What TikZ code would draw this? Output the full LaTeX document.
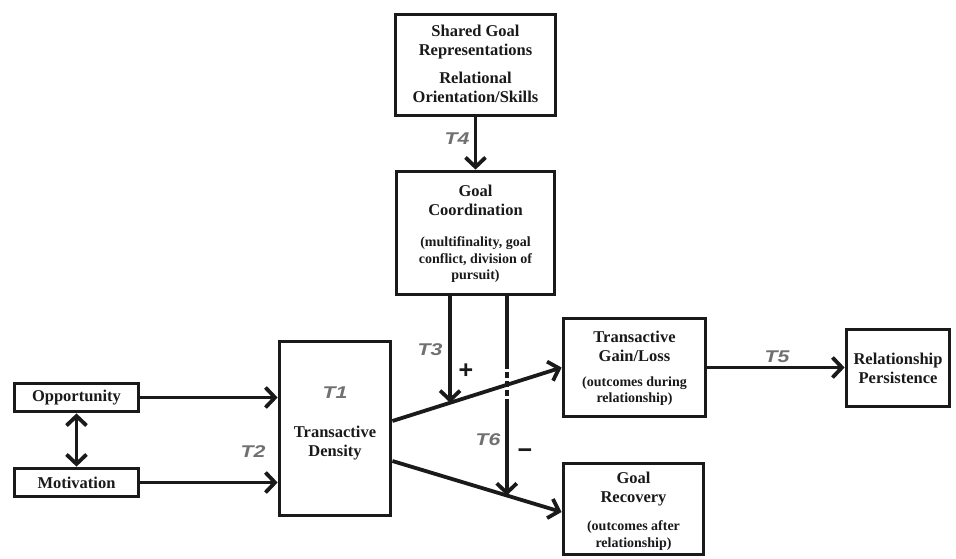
\documentclass[tikz,border=0pt]{standalone}
\usepackage{fontspec}
\setmainfont{Liberation Serif}
\newfontfamily\tfont[FakeStretch=1.25]{Liberation Sans}
\newfontfamily\sfont{Liberation Sans}
\usetikzlibrary{arrows.meta,calc}
\definecolor{tgray}{HTML}{707070}
\definecolor{ink}{HTML}{1A1A1A}
\tikzset{
  box/.style={draw=ink, line width=3.8pt, rectangle, inner sep=0pt},
  mainlab/.style={align=center, inner sep=0pt, text=ink, font=\fontsize{16.5}{19}\selectfont\bfseries},
  sublab/.style={align=center, inner sep=0pt, text=ink, font=\fontsize{14}{16.5}\selectfont\bfseries},
  conn/.style={draw=ink, line width=3.8pt},
  arr/.style={conn, -{Straight Barb[length=9.5pt,width=20pt]}},
  darr/.style={conn, {Straight Barb[length=9.5pt,width=20pt]}-{Straight Barb[length=9.5pt,width=20pt]}},
  tlab/.style={inner sep=0pt, text=tgray, font=\tfont\fontsize{17}{17}\selectfont\bfseries\itshape},
  sign/.style={inner sep=0pt, text=ink, font=\sfont\fontsize{25}{25}\selectfont\bfseries}
}
\begin{document}
\begin{tikzpicture}[x=1pt,y=-1pt]
\useasboundingbox[fill=white] (0,0) rectangle (956,558);
% boxes
\node[box, minimum width=160pt, minimum height=101pt] (SG) at (475.5,65) {};
\node[box, minimum width=158pt, minimum height=123pt] (GC) at (475.5,233) {};
\node[box, minimum width=111pt, minimum height=174pt] (TD) at (335,428.5) {};
\node[box, minimum width=124pt, minimum height=28pt] (Opp) at (76.5,397.5) {};
\node[box, minimum width=124pt, minimum height=28pt] (Mot) at (76.5,482.5) {};
\node[box, minimum width=142pt, minimum height=98pt] (TG) at (634.5,367.5) {};
\node[box, minimum width=103pt, minimum height=77pt] (RP) at (898,368) {};
\node[box, minimum width=140pt, minimum height=91pt] (GR) at (633.5,509) {};
% texts
\node[mainlab] (SGt) at (475.5,64) {Shared Goal\\Representations\\[9pt]Relational\\Orientation/Skills};
\node[mainlab] (GCt) at (475.5,200.5) {Goal\\Coordination};
\node[sublab] (GCs) at (475.5,260) {(multifinality, goal\\conflict, division of\\pursuit)};
\node[mainlab] (TDt) at (335,443.5) {Transactive\\Density};
\node[mainlab] (Oppt) at (76.5,397.5) {Opportunity};
\node[mainlab] (Mott) at (76.5,482.5) {Motivation};
\node[mainlab] (TGt) at (634.5,346) {Transactive\\Gain/Loss};
\node[sublab] (TGs) at (634.5,391) {(outcomes during\\relationship)};
\node[mainlab] (RPt) at (898,368) {Relationship\\Persistence};
\node[mainlab] (GRt) at (633.5,489.5) {Goal\\Recovery};
\node[sublab] (GRs) at (633.5,535.5) {(outcomes after\\relationship)};
% connectors
\draw[arr] (SG.south) -- (GC.north);
\draw[arr] (Opp.east) -- (Opp.east -| TD.west);
\draw[arr] (Mot.east) -- (Mot.east -| TD.west);
\draw[darr] (Opp.south) -- (Mot.north);
\coordinate (d1) at ([yshift=7.5pt]TD.east);
\coordinate (d2) at ([yshift=-32.5pt]TD.east);
\coordinate (e2) at ([yshift=-3pt]GR.west);
\draw[arr] (d1) -- (TG.west) coordinate[pos=0.341] (x3) coordinate[pos=0.676] (c6);
\draw[arr] (d2) -- (e2) coordinate[pos=0.676] (x6);
\draw[arr] (GC.south -| x3) -- (x3);
\draw[conn] (GC.south -| c6) -- ([yshift=22pt]c6);
\draw[conn, dash pattern=on 6pt off 3pt] ([yshift=22pt]c6) -- ([yshift=-16pt]c6);
\draw[arr] ([yshift=-16pt]c6) -- (x6);
\draw[arr] (TG.east) -- (TG.east -| RP.west);
% labels
\node[tlab] (T4) at (457,139) {T4};
\node[tlab] (T3) at (430,350) {T3};
\node[tlab] (T6) at (488,440) {T6};
\node[tlab] (T2) at (253,452) {T2};
\node[tlab] (T1) at (335,393) {T1};
\node[tlab] (T5) at (777,357) {T5};
\node[sign] (plus) at (466,371) {+};
\node[sign] (minus) at (525,454) {−};
\end{tikzpicture}
\end{document}
